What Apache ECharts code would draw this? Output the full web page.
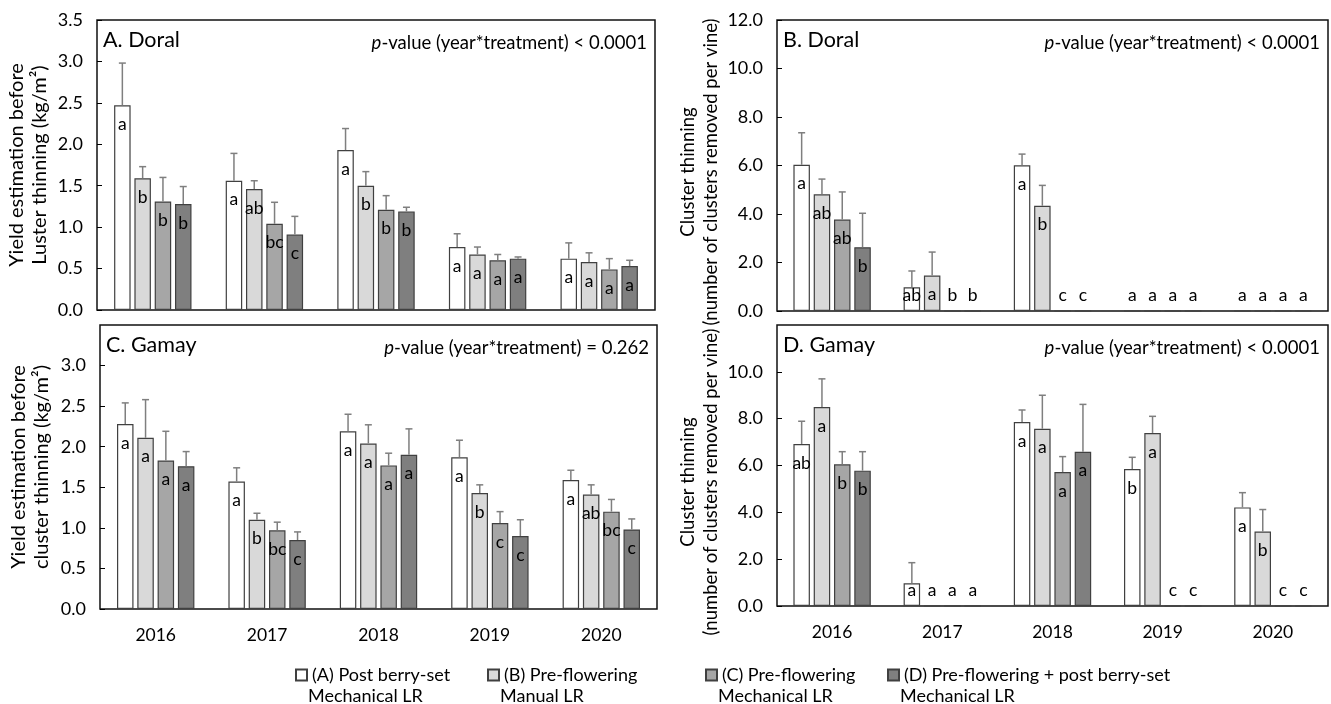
<!DOCTYPE html>
<html>
<head>
<meta charset="utf-8">
<script src="https://cdn.jsdelivr.net/npm/echarts@6/dist/echarts.min.js"></script>
<style>
html, body { margin: 0; padding: 0; background: #fff; }
#chart { width: 1331px; height: 704px; }
</style>
</head>
<body>
<div id="chart"></div>
<script>
var years = ['2016', '2017', '2018', '2019', '2020'];
var treatments = ['(A) Post berry-set', '(B) Pre-flowering', '(C) Pre-flowering', '(D) Pre-flowering + post berry-set'];
var treatmentLine2 = ['Mechanical LR', 'Manual LR', 'Mechanical LR', 'Mechanical LR'];
var colors = ['#ffffff', '#d9d9d9', '#a6a6a6', '#7f7f7f'];

// A. Doral - yield estimation before cluster thinning (kg/m2)
var doralYield = [
  [2.47, 1.56, 1.93, 0.76, 0.62],
  [1.59, 1.46, 1.50, 0.67, 0.58],
  [1.31, 1.04, 1.21, 0.60, 0.49],
  [1.28, 0.91, 1.19, 0.62, 0.53]
];
var doralYieldSe = [
  [0.51, 0.33, 0.26, 0.16, 0.19],
  [0.14, 0.10, 0.17, 0.09, 0.11],
  [0.29, 0.26, 0.17, 0.07, 0.13],
  [0.21, 0.22, 0.05, 0.02, 0.07]
];
var doralYieldLetters = [
  ['a', 'a', 'a', 'a', 'a'],
  ['b', 'ab', 'b', 'a', 'a'],
  ['b', 'bc', 'b', 'a', 'a'],
  ['b', 'c', 'b', 'a', 'a']
];

// B. Doral - clusters removed per vine
var doralThin = [
  [6.03, 0.98, 6.01, 0, 0],
  [4.81, 1.46, 4.34, 0, 0],
  [3.77, 0, 0, 0, 0],
  [2.63, 0, 0, 0, 0]
];
var doralThinSe = [
  [1.32, 0.67, 0.46, 0, 0],
  [0.63, 0.97, 0.84, 0, 0],
  [1.14, 0, 0, 0, 0],
  [1.40, 0, 0, 0, 0]
];
var doralThinLetters = [
  ['a', 'ab', 'a', 'a', 'a'],
  ['ab', 'a', 'b', 'a', 'a'],
  ['ab', 'b', 'c', 'a', 'a'],
  ['b', 'b', 'c', 'a', 'a']
];

// C. Gamay - yield estimation before cluster thinning (kg/m2)
var gamayYield = [
  [2.28, 1.57, 2.19, 1.87, 1.59],
  [2.11, 1.10, 2.04, 1.43, 1.41],
  [1.83, 0.97, 1.77, 1.06, 1.20],
  [1.76, 0.85, 1.90, 0.90, 0.98]
];
var gamayYieldSe = [
  [0.26, 0.17, 0.21, 0.21, 0.12],
  [0.47, 0.08, 0.23, 0.10, 0.12],
  [0.36, 0.10, 0.15, 0.14, 0.15],
  [0.18, 0.10, 0.32, 0.20, 0.13]
];
var gamayYieldLetters = [
  ['a', 'a', 'a', 'a', 'a'],
  ['a', 'b', 'a', 'b', 'ab'],
  ['a', 'bc', 'a', 'c', 'bc'],
  ['a', 'c', 'a', 'c', 'c']
];

// D. Gamay - clusters removed per vine
var gamayThin = [
  [6.92, 0.97, 7.86, 5.85, 4.21],
  [8.50, 0, 7.57, 7.39, 3.18],
  [6.05, 0, 5.72, 0, 0],
  [5.78, 0, 6.59, 0, 0]
];
var gamayThinSe = [
  [0.97, 0.88, 0.51, 0.50, 0.63],
  [1.20, 0, 1.43, 0.71, 0.94],
  [0.54, 0, 0.66, 0, 0],
  [0.81, 0, 2.02, 0, 0]
];
var gamayThinLetters = [
  ['ab', 'a', 'a', 'b', 'a'],
  ['a', 'a', 'a', 'a', 'b'],
  ['b', 'a', 'a', 'c', 'c'],
  ['b', 'a', 'a', 'c', 'c']
];

var FONT = 'Lato';
var BAR_W = 16.5;
var BAR_GAP = 3.8;

var panels = [
  { title: 'A. Doral', p: '< 0.0001', means: doralYield, se: doralYieldSe, letters: doralYieldLetters,
    grid: { left: 97, top: 20, right: 676, bottom: 394 }, max: 3.5, interval: 0.5, showMax: true, xLabels: false,
    yName: 'Yield estimation before\nLuster thinning (kg/m²)', nameSize: 20, nameX: 28, nameY: 165 },
  { title: 'B. Doral', p: '< 0.0001', means: doralThin, se: doralThinSe, letters: doralThinLetters,
    grid: { left: 777, top: 20, right: 3, bottom: 393 }, max: 12, interval: 2, showMax: true, xLabels: false,
    yName: 'Cluster thinning\n(number of clusters removed per vine)', nameSize: 18.5, nameX: 700, nameY: 172 },
  { title: 'C. Gamay', p: '= 0.262', means: gamayYield, se: gamayYieldSe, letters: gamayYieldLetters,
    grid: { left: 100, top: 325, right: 674, bottom: 95 }, max: 3.5, interval: 0.5, showMax: false, xLabels: true,
    yName: 'Yield estimation before\ncluster thinning (kg/m²)', nameSize: 20, nameX: 30, nameY: 467 },
  { title: 'D. Gamay', p: '< 0.0001', means: gamayThin, se: gamayThinSe, letters: gamayThinLetters,
    grid: { left: 777, top: 325, right: 3, bottom: 98 }, max: 12, interval: 2, showMax: false, xLabels: true,
    yName: 'Cluster thinning\n(number of clusters removed per vine)', nameSize: 18.5, nameX: 700, nameY: 482 }
];

function errorItem(panel, t) {
  return function (params, api) {
    var cat = api.value(0), mean = api.value(1), se = api.value(2);
    var base = api.coord([cat, 0]);
    var x = base[0] + (t - 1.5) * (BAR_W + BAR_GAP);
    var yTop = api.coord([cat, mean])[1];
    var children = [];
    if (se > 0) {
      var yErr = api.coord([cat, mean + se])[1];
      children.push({ type: 'line', shape: { x1: x, y1: yTop, x2: x, y2: yErr },
        style: { stroke: '#7f7f7f', lineWidth: 1.5 } });
      children.push({ type: 'line', shape: { x1: x - 3.5, y1: yErr, x2: x + 3.5, y2: yErr },
        style: { stroke: '#7f7f7f', lineWidth: 1.5 } });
    }
    var ly = Math.min(yTop + 19, base[1] - 16);
    children.push({ type: 'text', x: x, y: ly,
      style: { text: panel.letters[t][params.dataIndex], align: 'center', verticalAlign: 'middle',
        fontSize: 17.5, fontFamily: FONT, fill: '#000' } });
    return { type: 'group', children: children };
  };
}

var grids = [], xAxes = [], yAxes = [], series = [], graphics = [];

panels.forEach(function (panel, p) {
  grids.push(Object.assign({ show: true, borderColor: '#111', borderWidth: 1.5 }, panel.grid));
  xAxes.push({
    type: 'category', gridIndex: p, data: years,
    axisLine: { show: false }, axisTick: { show: false },
    axisLabel: { show: panel.xLabels, fontSize: 17.5, fontFamily: FONT, color: '#000', margin: 17 }
  });
  yAxes.push({
    type: 'value', gridIndex: p, min: 0, max: panel.max, interval: panel.interval,
    axisLine: { show: false }, splitLine: { show: false },
    axisTick: { show: true, inside: true, length: 5, lineStyle: { color: '#000', width: 1 } },
    axisLabel: { fontSize: 18, fontFamily: FONT, color: '#000', margin: 14, showMaxLabel: panel.showMax,
      formatter: function (v) { return v.toFixed(1); } }
  });
  panel.means.forEach(function (vals, t) {
    series.push({
      name: treatments[t], type: 'bar', xAxisIndex: p, yAxisIndex: p, data: vals,
      barWidth: BAR_W, barGap: (BAR_GAP / BAR_W * 100).toFixed(1) + '%',
      itemStyle: { color: colors[t], borderColor: '#404040', borderWidth: 1.2 }
    });
    series.push({
      type: 'custom', xAxisIndex: p, yAxisIndex: p, z: 5,
      data: vals.map(function (v, i) { return [i, v, panel.se[t][i]]; }),
      encode: { x: 0, y: 1 },
      renderItem: errorItem(panel, t)
    });
  });
  var g = panel.grid;
  var rightEdge = 1331 - g.right;
  graphics.push({ type: 'text', left: g.left + 6, top: g.top + 9,
    style: { text: panel.title, fontSize: 21.5, fontFamily: FONT, fill: '#000' } });
  graphics.push({ type: 'text', x: rightEdge - 8, y: g.top + 23,
    style: { text: '{i|p}-value (year*treatment) ' + panel.p, align: 'right', verticalAlign: 'middle',
      fontSize: 18.5, fontFamily: FONT, fill: '#000',
      rich: { i: { fontStyle: 'italic', fontSize: 18.5, fontFamily: FONT } } } });
  graphics.push({ type: 'text', x: panel.nameX, y: panel.nameY, rotation: Math.PI / 2,
    style: { text: panel.yName, align: 'center', verticalAlign: 'middle', lineHeight: 23,
      fontSize: panel.nameSize, fontFamily: FONT, fill: '#000' } });
});

var legendLeft = [290, 482, 700, 882];
var legends = treatments.map(function (name, i) {
  return {
    data: [name], left: legendLeft[i], top: 661, icon: 'rect', itemWidth: 11, itemHeight: 11,
    selectedMode: false, textStyle: { fontSize: 18, fontFamily: FONT, color: '#000' }
  };
});
treatmentLine2.forEach(function (txt, i) {
  graphics.push({ type: 'text', left: legendLeft[i] + 18, top: 687,
    style: { text: txt, fontSize: 18, fontFamily: FONT, fill: '#000' } });
});

var chart = echarts.init(document.getElementById('chart'));
chart.setOption({
  animation: false,
  backgroundColor: '#fff',
  textStyle: { fontFamily: FONT },
  grid: grids,
  xAxis: xAxes,
  yAxis: yAxes,
  legend: legends,
  series: series,
  graphic: graphics
});
</script>
</body>
</html>
